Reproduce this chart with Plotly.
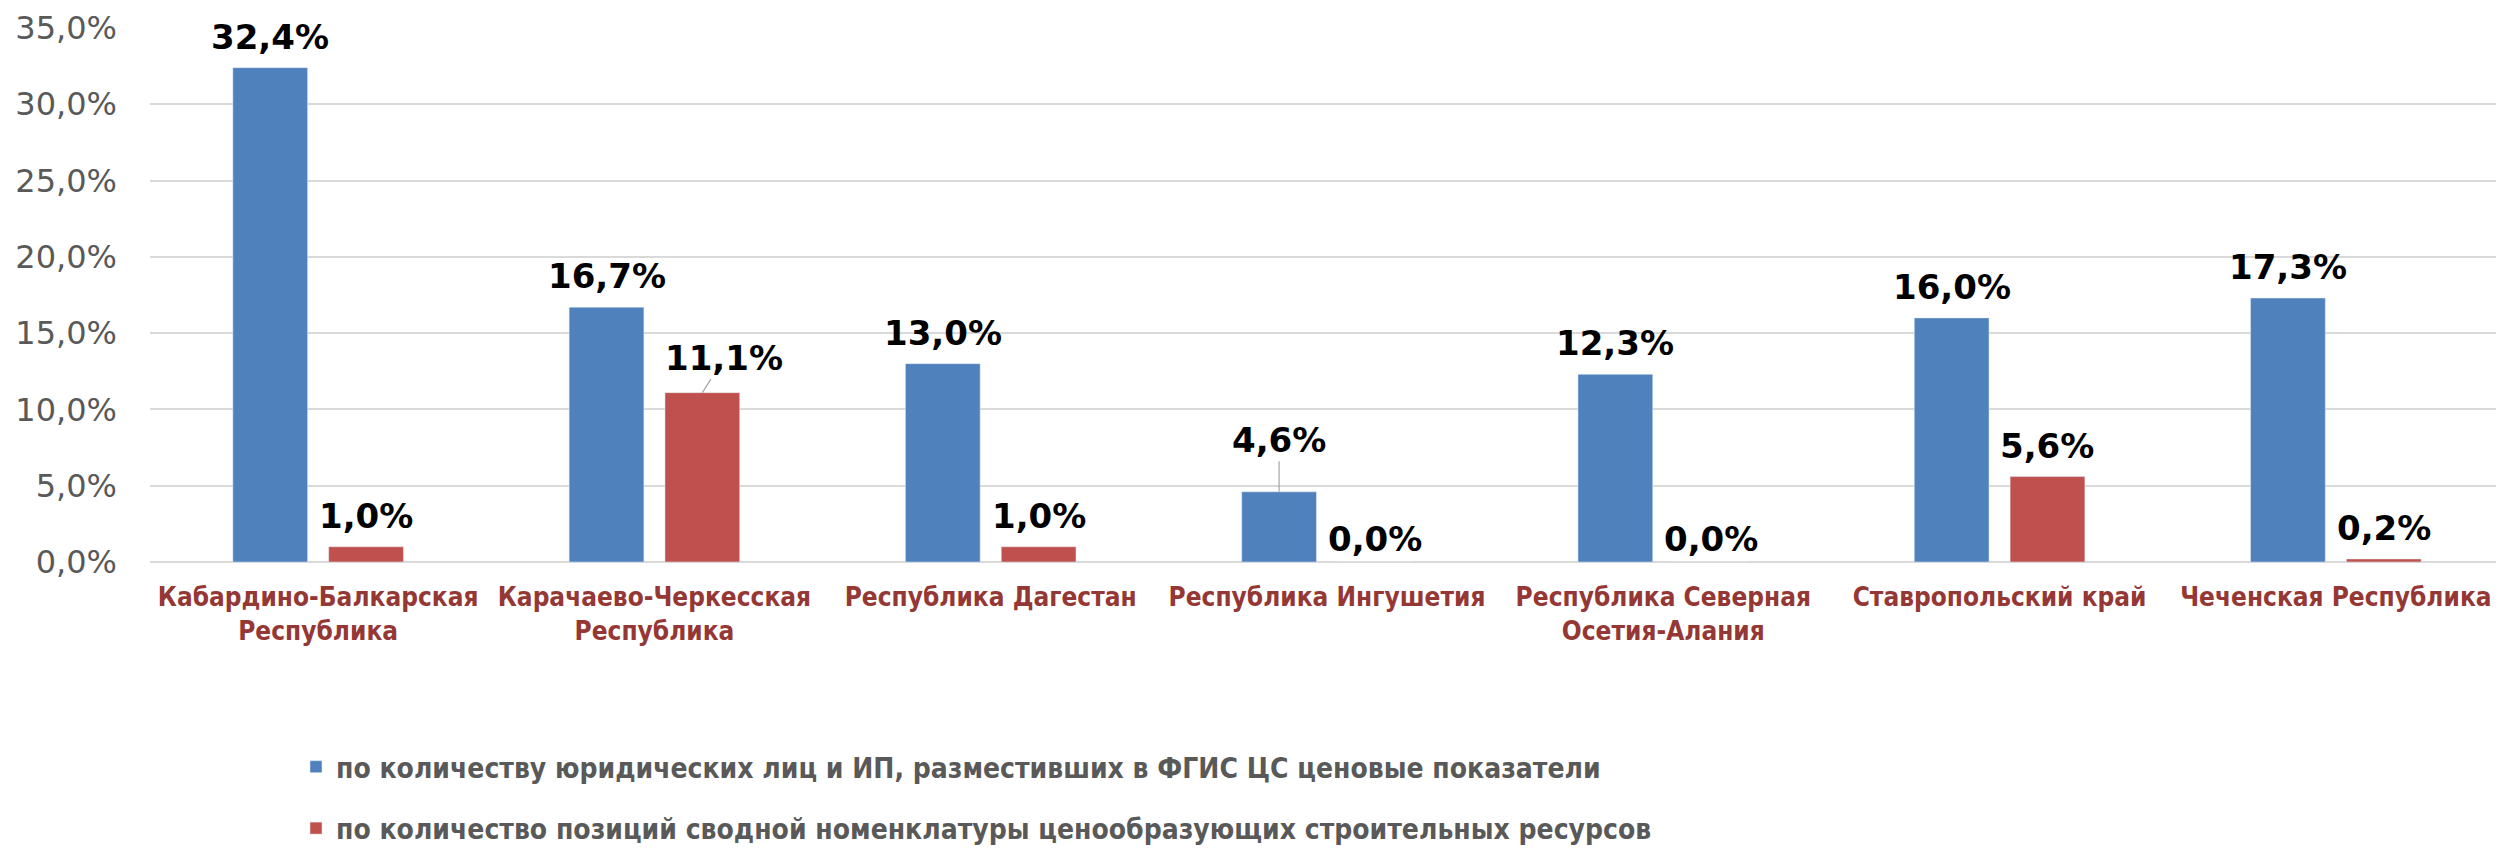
import plotly.graph_objects as go

categories = [
    "Кабардино-Балкарская<br>Республика",
    "Карачаево-Черкесская<br>Республика",
    "Республика Дагестан",
    "Республика Ингушетия",
    "Республика Северная<br>Осетия-Алания",
    "Ставропольский край",
    "Чеченская Республика",
]
series1_name = "по количеству юридических лиц и ИП, разместивших в ФГИС ЦС ценовые показатели"
series2_name = "по количество позиций сводной номенклатуры ценообразующих строительных ресурсов"
series1 = [32.4, 16.7, 13.0, 4.6, 12.3, 16.0, 17.3]
series2 = [1.0, 11.1, 1.0, 0.0, 0.0, 5.6, 0.2]
tick_vals = [0, 5, 10, 15, 20, 25, 30, 35]

# page is 2504x849; the html body adds an 8px margin, so the figure is smaller
OFF = 8
W, H = 2504 - OFF, 849 - OFF
PLOT_L, PLOT_T, PLOT_B = 150, 28, 562   # target page coordinates
ML, MR, MT, MB = PLOT_L - OFF, 0, PLOT_T - OFF, 849 - PLOT_B
BARGAP = 0.43
GROUPGAP = 0.22
BLUE = "#4F81BD"
RED = "#C0504D"


def fmt(v):
    return f"{v:.1f}".replace(".", ",") + "%"


fig = go.Figure()
fig.add_trace(go.Bar(x=categories, y=series1, name=series1_name, marker_color=BLUE,
                     legendgroup="a"))
fig.add_trace(go.Bar(x=categories, y=series2, name=series2_name, marker_color=RED,
                     legendgroup="b"))

plot_w = W - ML - MR
plot_h = H - MT - MB
cat_w = plot_w / len(categories)
slot = cat_w * (1 - BARGAP) / 2
offsets = [-slot / 2, slot / 2]

label_font = dict(family="DejaVu Sans, Verdana, sans-serif", size=34, color="#000000")
# special label placements (leader lines): (series, category) -> (ax, ay)
leader = {(1, 1): (22, -35), (0, 3): (0, -52)}

for si, vals in enumerate([series1, series2]):
    for ci, v in enumerate(vals):
        key = (si, ci)
        if key in leader:
            ax, ay = leader[key]
            fig.add_annotation(x=categories[ci], y=v, xref="x", yref="y",
                               xshift=offsets[si], text="<b>" + fmt(v) + "</b>",
                               showarrow=True, arrowhead=0, arrowwidth=1.2,
                               arrowcolor="#A6A6A6", ax=ax, ay=ay, standoff=0,
                               font=label_font)
        else:
            ys = 9 if v > 0.05 else 1
            fig.add_annotation(x=categories[ci], y=v, xref="x", yref="y",
                               xshift=offsets[si], yshift=ys, yanchor="bottom",
                               text="<b>" + fmt(v) + "</b>", showarrow=False,
                               font=label_font)

LEG_X, LEG_TOP = 296, 742  # page coordinates
fig.update_layout(
    width=W, height=H,
    margin=dict(l=ML, r=MR, t=MT, b=MB, autoexpand=False),
    paper_bgcolor="white", plot_bgcolor="white",
    barmode="group", bargap=BARGAP, bargroupgap=GROUPGAP,
    separators=", ",
    showlegend=True,
    legend=dict(
        x=(LEG_X - PLOT_L) / plot_w, xanchor="left",
        y=-(LEG_TOP - PLOT_B) / plot_h, yanchor="top",
        orientation="v", traceorder="grouped", tracegroupgap=22,
        font=dict(family="DejaVu Sans Condensed, Liberation Sans Narrow, sans-serif",
                  size=28, color="#595959", weight="bold"),
        bgcolor="rgba(0,0,0,0)",
    ),
)
fig.update_yaxes(
    range=[0, 35], tickvals=tick_vals, ticktext=[fmt(t) for t in tick_vals],
    showgrid=True, gridcolor="#D9D9D9", gridwidth=2,
    zeroline=True, zerolinecolor="#D9D9D9", zerolinewidth=2,
    showline=False, ticks="", automargin=False,
    tickfont=dict(family="DejaVu Sans, Verdana, sans-serif", size=32, color="#595959"),
    ticklabelstandoff=32,
)
fig.update_xaxes(
    showline=False, ticks="", showgrid=False, automargin=False,
    tickfont=dict(family="DejaVu Sans Condensed, Liberation Sans Narrow, sans-serif",
                  size=26, color="#953735", weight="bold"),
    tickangle=0, ticklabelstandoff=17,
)

fig.write_html("out.html")
